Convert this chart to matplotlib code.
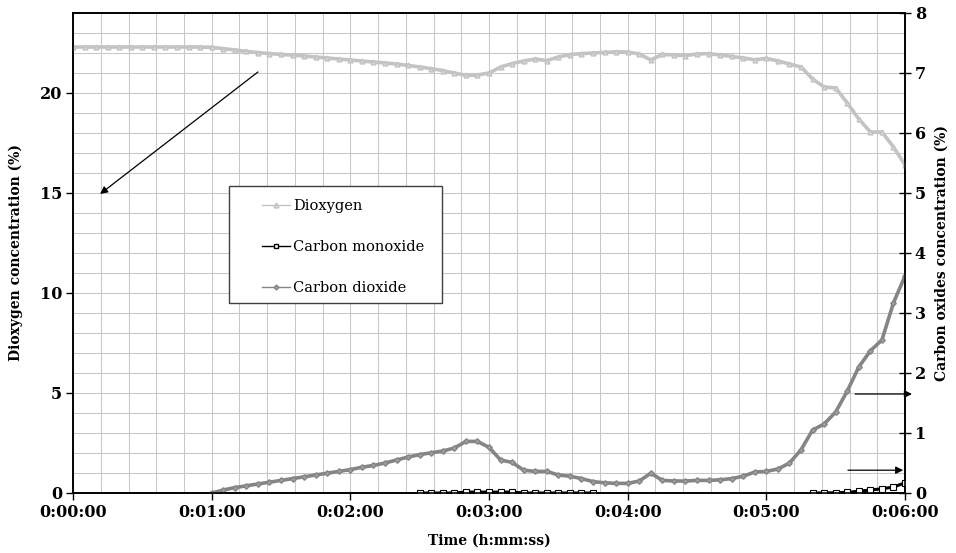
import numpy as np
import matplotlib
matplotlib.use("Agg")
import matplotlib.pyplot as plt
from matplotlib.ticker import MultipleLocator, FuncFormatter
from matplotlib.lines import Line2D
from matplotlib.patches import Rectangle

plt.rcParams['font.family'] = ['DejaVu Serif']

# time in seconds, one reading every 5 s
t = np.arange(0, 361, 5)

# dioxygen concentration (%) - left axis
o2 = [22.3, 22.3, 22.3, 22.3, 22.3, 22.3, 22.3, 22.3, 22.3, 22.3, 22.3, 22.3,
      22.28, 22.22, 22.15, 22.08, 22.02, 21.97, 21.93, 21.89, 21.85, 21.8, 21.75,
      21.7, 21.65, 21.6, 21.55, 21.5, 21.45, 21.38, 21.3, 21.22, 21.12, 21.0,
      20.88, 20.9, 21.0, 21.3, 21.47, 21.6, 21.7, 21.62, 21.8, 21.92, 21.97,
      22.0, 22.03, 22.06, 22.05, 21.95, 21.65, 21.93, 21.9, 21.87, 21.95, 21.97,
      21.9, 21.83, 21.75, 21.66, 21.73, 21.6, 21.45, 21.3, 20.7, 20.3, 20.25,
      19.5, 18.7, 18.05, 18.05, 17.3, 16.4]

nan = np.nan
# carbon dioxide concentration (%) - right axis
co2 = [nan] * 12 + [
    0.0, 0.05, 0.09, 0.12, 0.15, 0.18, 0.21, 0.24, 0.27, 0.3, 0.33, 0.36,
    0.39, 0.43, 0.46, 0.5, 0.55, 0.6, 0.64, 0.67, 0.7, 0.75, 0.86, 0.86,
    0.76, 0.55, 0.51, 0.38, 0.36, 0.36, 0.3, 0.28, 0.24, 0.19, 0.17, 0.16,
    0.16, 0.2, 0.33, 0.21, 0.2, 0.2, 0.21, 0.21, 0.22, 0.24, 0.28, 0.35,
    0.36, 0.4, 0.5, 0.72, 1.05, 1.15, 1.35, 1.7, 2.1, 2.37, 2.55, 3.17, 3.62]

# carbon monoxide concentration (%) - right axis
co = [nan] * 30 + [
    0.0, 0.0, 0.0, 0.0, 0.015, 0.015, 0.015, 0.015, 0.015, 0.0, 0.0, 0.0,
    0.0, 0.0, 0.0, 0.0] + [nan] * 18 + [
    0.0, 0.0, 0.005, 0.01, 0.03, 0.05, 0.07, 0.1, 0.17]

fig = plt.figure(figsize=(9.56, 5.53), dpi=100)
ax = fig.add_axes([0.0764, 0.1085, 0.8703, 0.868])
ax2 = ax.twinx()

c_o2, c_co2, c_co = '#c3c3c3', '#858585', '#000000'

ax.plot(t, o2, color=c_o2, lw=2.6, zorder=3)
ax.plot(t, o2, ls='none', marker='^', ms=3.5, mfc='#d8d8d8', mec=c_o2, zorder=4)

ax2.plot(t, co2, color=c_co2, lw=2.6)
ax2.plot(t, co2, ls='none', marker='D', ms=2.8, mfc='#a0a0a0', mec=c_co2)
ax2.plot(t, co, color=c_co, lw=2.2)
ax2.plot(t, co, ls='none', marker='s', ms=3.8, mfc='white', mec=c_co, mew=0.8)

# axes and grid
ax.set_xlim(0, 360)
ax.set_ylim(0, 24)
ax2.set_ylim(0, 8)
ax.xaxis.set_major_locator(MultipleLocator(60))
ax.xaxis.set_minor_locator(MultipleLocator(12))
ax.yaxis.set_major_locator(MultipleLocator(5))
ax.yaxis.set_minor_locator(MultipleLocator(1))
ax2.yaxis.set_major_locator(MultipleLocator(1))
ax.xaxis.set_major_formatter(FuncFormatter(
    lambda s, p: f"{int(s // 3600)}:{int(s % 3600 // 60):02d}:{int(s % 60):02d}"))
ax.grid(which='both', color='#c8c8c8', lw=0.75, zorder=0)
ax.set_axisbelow(True)

ax.tick_params(which='major', direction='out', length=5, width=1, pad=3, labelsize=11.5)
ax.tick_params(which='minor', length=0)
ax2.tick_params(which='major', direction='inout', length=8, width=1, pad=3, labelsize=11.5)
for lab in ax.get_xticklabels() + ax.get_yticklabels() + ax2.get_yticklabels():
    lab.set_fontweight('bold')

for a in (ax, ax2):
    for sp in a.spines.values():
        sp.set_linewidth(1.2)
        sp.set_color('black')

ax.set_xlabel('Time (h:mm:ss)', fontsize=10, fontweight='bold', labelpad=9)
ax.set_ylabel('Dioxygen concentration (%)', fontsize=10, fontweight='bold', labelpad=12)
ax2.set_ylabel('Carbon oxides concentration (%)', fontsize=10, fontweight='bold', labelpad=6)

# arrows pointing to the matching axis
arrow = dict(arrowstyle='-|>', color='black', lw=0.9, mutation_scale=11, shrinkA=0, shrinkB=0)
ax.annotate('', xy=(11.7, 14.95), xytext=(80, 21.05), arrowprops=arrow)
ax2.annotate('', xy=(363, 1.65), xytext=(338.4, 1.65), arrowprops=arrow, annotation_clip=False)
ax2.annotate('', xy=(359.2, 0.38), xytext=(335.3, 0.38), arrowprops=arrow)

# legend box
ax2.add_patch(Rectangle((0.1875, 0.3958), 0.256, 0.2438, transform=ax2.transAxes,
                        facecolor='white', edgecolor='#404040', lw=1.0, zorder=10))
handles = [
    Line2D([], [], color=c_o2, lw=1, marker='^', ms=3.5, mfc='#d8d8d8', mec=c_o2),
    Line2D([], [], color=c_co, lw=1, marker='s', ms=3.5, mfc='white', mec=c_co),
    Line2D([], [], color=c_co2, lw=1, marker='D', ms=2.5, mfc='#a0a0a0', mec=c_co2),
]
labels = ['Dioxygen', 'Carbon monoxide', 'Carbon dioxide']
leg = ax2.legend(handles, labels, loc='upper left', bbox_to_anchor=(0.227, 0.613),
                 fontsize=10.5, frameon=False, labelspacing=1.85, borderpad=0,
                 handlelength=1.9, handletextpad=0.25, borderaxespad=0)
leg.set_zorder(11)

fig.savefig('out.png', dpi=100)
